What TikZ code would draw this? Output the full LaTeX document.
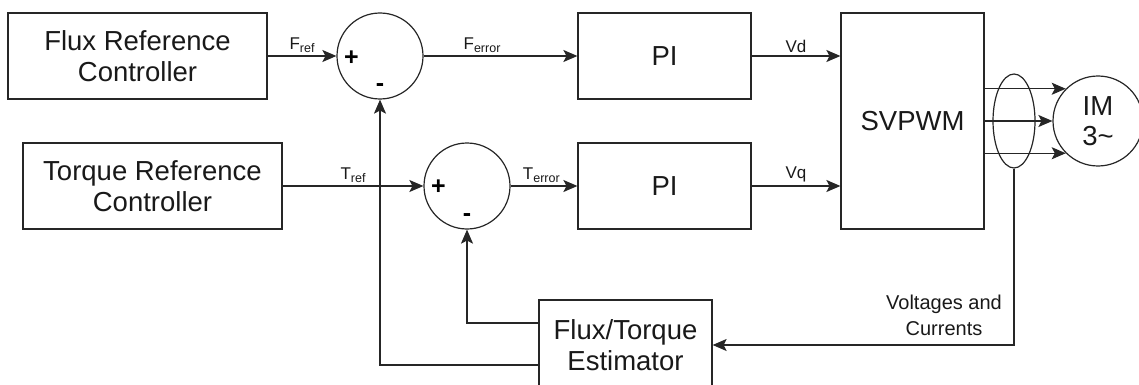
\documentclass[tikz,border=0pt]{standalone}
\usepackage{fontspec}
\setmainfont{Liberation Sans}
\usetikzlibrary{arrows.meta,shapes.geometric}
\newcommand{\sublab}[2]{#1\raisebox{-0.3ex}{\fontsize{12.5}{12.5}\selectfont #2}}

\begin{document}
\begin{tikzpicture}[
        x=1pt, y=-1pt,
        >={Stealth[length=14pt,width=12pt,inset=3pt]}, % 箭头样式
        line/.style={draw=black!85, line width=1.2pt}, % 连线的样式
        block/.style={line, minimum width=#1, minimum height=86pt, inner sep=0pt,
            align=center, text=black!90, font=\fontsize{27.5}{31}\selectfont},
        sumnode/.style={line, circle, minimum size=86pt, inner sep=0pt},
        sign/.style={inner sep=0pt, font=\fontsize{25}{25}\selectfont\bfseries},
        lbl/.style={inner sep=3pt, text=black!90, font=\fontsize{17}{19}\selectfont}
    ]
    \useasboundingbox (0,0) rectangle (1139,385);

    % 绘制方框
    \node[block=259pt] (flux) at (137.5,56) {Flux Reference\\Controller};
    \node[block=259pt] (torque) at (152.5,186) {Torque Reference\\Controller};
    \node[block=173pt] (pid) at (664.5,56) {PI};
    \node[block=173pt] (piq) at (664.5,186) {PI};
    \node[block=143pt, minimum height=216pt] (svpwm) at (912.5,121) {SVPWM};
    \node[block=173pt, minimum height=90pt] (est) at (625.5,345) {Flux/Torque\\Estimator};

    % 绘制求和点与电机
    \node[sumnode] (sumf) at (380,56) {};
    \node[sumnode] (sumt) at (467,186) {};
    \node[sign] at ([xshift=15pt,yshift=-2pt]sumf.west) {+};
    \node[sign] at ([yshift=12pt]sumf.south) {-};
    \node[sign] at ([xshift=15pt,yshift=-1pt]sumt.west) {+};
    \node[sign] at ([yshift=12pt]sumt.south) {-};
    \node[line, circle, minimum size=90pt, inner sep=0pt, align=center,
        text=black!90, font=\fontsize{27.5}{30}\selectfont] (motor) at (1098,121) {IM\\3\textasciitilde};
    \node[line, ellipse, minimum width=42pt, minimum height=94pt, inner sep=0pt] (bus) at (1014,121) {};

    % 绘制前向通道
    \draw[line, ->] (flux) -- node[lbl, above] {\sublab{F}{ref}} (sumf);
    \draw[line, ->] (sumf) -- node[lbl, above, pos=0.38] {\sublab{F}{error}} (pid);
    \draw[line, ->] (pid) -- node[lbl, above] {Vd} (pid -| svpwm.west);
    \draw[line, ->] (torque) -- node[lbl, above] {\sublab{T}{ref}} (sumt);
    \draw[line, ->] (sumt) -- node[lbl, above, pos=0.46] {\sublab{T}{error}} (piq);
    \draw[line, ->] (piq) -- node[lbl, above] {Vq} (piq -| svpwm.west);

    % 三相输出
    \draw[line, ->] (svpwm.east |- motor.135) -- (motor.135);
    \draw[line, ->] (svpwm.east |- motor.west) -- (motor.west);
    \draw[line, ->] (svpwm.east |- motor.225) -- (motor.225);

    % 绘制反馈通道
    \draw[line, ->] (bus.south) |- (est.east);
    \node[lbl, align=center, font=\fontsize{20}{26}\selectfont] (vc) at (944,315) {Voltages and\\Currents};
    \draw[line, ->] ([yshift=22pt]est.west) -| (sumt.south);
    \draw[line, ->] ([yshift=-20pt]est.west) -| (sumf.south);

\end{tikzpicture}
\end{document}
